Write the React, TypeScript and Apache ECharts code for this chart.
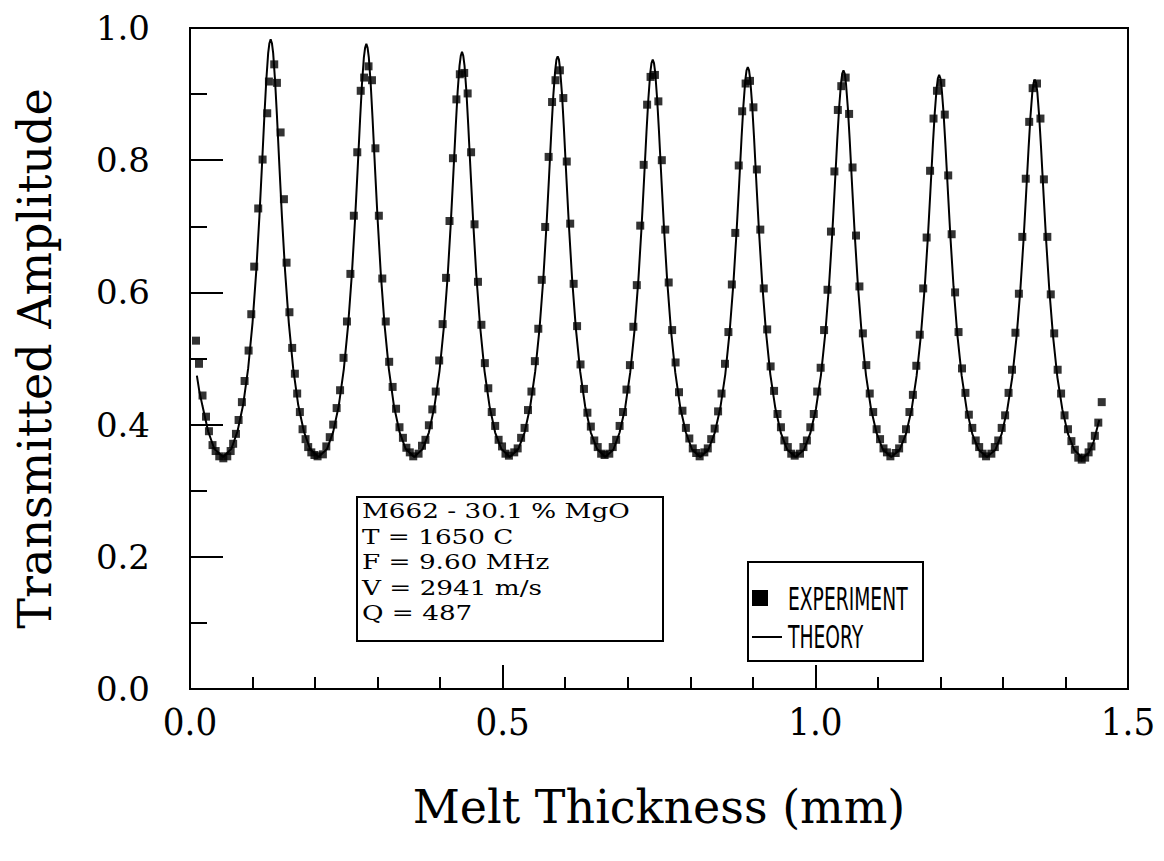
import React, { useEffect, useRef } from "react";
import * as echarts from "echarts";

// ---- Theory curve ----
const theoryX: number[] = [
  0.011, 0.015, 0.020, 0.029, 0.039, 0.053,
  0.066, 0.076, 0.085, 0.093, 0.100, 0.106, 0.111, 0.115, 0.119, 0.122, 0.125, 0.127, 0.129, 0.131, 0.133, 0.136, 0.139, 0.143, 0.147, 0.152, 0.158, 0.165, 0.173, 0.182, 0.192, 0.2055,
  0.219, 0.229, 0.238, 0.246, 0.253, 0.259, 0.264, 0.268, 0.272, 0.275, 0.278, 0.280, 0.282, 0.284, 0.286, 0.289, 0.292, 0.296, 0.300, 0.305, 0.311, 0.318, 0.326, 0.335, 0.345, 0.3585,
  0.372, 0.382, 0.391, 0.399, 0.406, 0.412, 0.417, 0.421, 0.425, 0.428, 0.431, 0.433, 0.435, 0.437, 0.439, 0.442, 0.445, 0.449, 0.453, 0.458, 0.464, 0.471, 0.479, 0.488, 0.498, 0.5115,
  0.525, 0.535, 0.544, 0.552, 0.559, 0.565, 0.570, 0.574, 0.578, 0.581, 0.584, 0.586, 0.588, 0.590, 0.592, 0.595, 0.598, 0.602, 0.606, 0.611, 0.617, 0.624, 0.632, 0.641, 0.651, 0.664,
  0.677, 0.687, 0.696, 0.704, 0.711, 0.717, 0.722, 0.726, 0.730, 0.733, 0.736, 0.738, 0.740, 0.742, 0.744, 0.747, 0.750, 0.754, 0.758, 0.763, 0.769, 0.776, 0.784, 0.793, 0.803, 0.816,
  0.829, 0.839, 0.848, 0.856, 0.863, 0.869, 0.874, 0.878, 0.882, 0.885, 0.888, 0.890, 0.892, 0.894, 0.896, 0.899, 0.902, 0.906, 0.910, 0.915, 0.921, 0.928, 0.936, 0.945, 0.955, 0.9685,
  0.982, 0.992, 1.001, 1.009, 1.016, 1.022, 1.027, 1.031, 1.035, 1.038, 1.041, 1.043, 1.045, 1.047, 1.049, 1.052, 1.055, 1.059, 1.063, 1.068, 1.074, 1.081, 1.089, 1.098, 1.108, 1.1215,
  1.135, 1.145, 1.154, 1.162, 1.169, 1.175, 1.180, 1.184, 1.188, 1.191, 1.194, 1.196, 1.198, 1.200, 1.202, 1.205, 1.208, 1.212, 1.216, 1.221, 1.227, 1.234, 1.242, 1.251, 1.261, 1.2745,
  1.288, 1.298, 1.307, 1.315, 1.322, 1.328, 1.333, 1.337, 1.341, 1.344, 1.347, 1.349, 1.351, 1.353, 1.355, 1.358, 1.361, 1.365, 1.369, 1.374, 1.380, 1.387, 1.395, 1.404, 1.414, 1.427,
  1.437, 1.445, 1.454,
];
const theoryY: number[] = [
  0.474, 0.450, 0.428, 0.390, 0.363, 0.351,
  0.363, 0.390, 0.430, 0.485, 0.554, 0.633, 0.715, 0.790, 0.868, 0.921, 0.962, 0.977, 0.983, 0.977, 0.962, 0.921, 0.868, 0.790, 0.715, 0.633, 0.554, 0.485, 0.430, 0.390, 0.363, 0.351,
  0.363, 0.389, 0.429, 0.484, 0.552, 0.630, 0.711, 0.785, 0.862, 0.915, 0.955, 0.970, 0.976, 0.970, 0.955, 0.915, 0.862, 0.785, 0.711, 0.630, 0.552, 0.484, 0.429, 0.389, 0.363, 0.351,
  0.363, 0.388, 0.428, 0.481, 0.548, 0.624, 0.704, 0.777, 0.852, 0.904, 0.943, 0.958, 0.964, 0.958, 0.943, 0.904, 0.852, 0.777, 0.704, 0.624, 0.548, 0.481, 0.428, 0.388, 0.363, 0.351,
  0.363, 0.388, 0.427, 0.480, 0.546, 0.621, 0.700, 0.772, 0.847, 0.898, 0.936, 0.952, 0.957, 0.952, 0.936, 0.898, 0.847, 0.772, 0.700, 0.621, 0.546, 0.480, 0.427, 0.388, 0.363, 0.351,
  0.362, 0.388, 0.426, 0.479, 0.544, 0.619, 0.697, 0.769, 0.843, 0.893, 0.932, 0.947, 0.952, 0.947, 0.932, 0.893, 0.843, 0.769, 0.697, 0.619, 0.544, 0.479, 0.426, 0.388, 0.362, 0.351,
  0.362, 0.387, 0.425, 0.476, 0.541, 0.614, 0.691, 0.761, 0.834, 0.883, 0.921, 0.936, 0.941, 0.936, 0.921, 0.883, 0.834, 0.761, 0.691, 0.614, 0.541, 0.476, 0.425, 0.387, 0.362, 0.351,
  0.362, 0.387, 0.424, 0.475, 0.539, 0.612, 0.688, 0.758, 0.830, 0.879, 0.916, 0.931, 0.936, 0.931, 0.916, 0.879, 0.830, 0.758, 0.688, 0.612, 0.539, 0.475, 0.424, 0.387, 0.362, 0.351,
  0.362, 0.386, 0.423, 0.474, 0.537, 0.609, 0.684, 0.753, 0.824, 0.872, 0.909, 0.924, 0.929, 0.924, 0.909, 0.872, 0.824, 0.753, 0.684, 0.609, 0.537, 0.474, 0.423, 0.386, 0.362, 0.351,
  0.362, 0.386, 0.423, 0.472, 0.535, 0.606, 0.680, 0.748, 0.818, 0.866, 0.903, 0.917, 0.922, 0.917, 0.903, 0.866, 0.818, 0.748, 0.680, 0.606, 0.535, 0.472, 0.423, 0.386, 0.362, 0.349,
  0.357, 0.374, 0.407,
];

const experimentX: number[] = [
  0.0096, 0.0144, 0.020, 0.0256, 0.0303, 0.036, 0.041, 0.0468, 0.0533, 0.0596, 0.065, 0.069, 0.0735, 0.0777, 0.083, 0.0873, 0.0937,
  0.098, 0.1027, 0.1091, 0.1161, 0.1235, 0.1262, 0.1347, 0.139, 0.1449, 0.1502, 0.1544, 0.159, 0.1634, 0.1677, 0.1714, 0.1757, 0.180, 0.1848, 0.189, 0.194, 0.199, 0.204,
  0.2125, 0.218, 0.2235, 0.229, 0.2345, 0.240, 0.2455, 0.251, 0.2565, 0.262, 0.2675, 0.273, 0.2785, 0.2855, 0.291, 0.2965, 0.302, 0.3075, 0.313, 0.3185, 0.324, 0.3295, 0.335, 0.3405, 0.346, 0.3515, 0.357,
  0.3655, 0.371, 0.3765, 0.382, 0.3875, 0.393, 0.3985, 0.404, 0.4095, 0.415, 0.4205, 0.426, 0.4315, 0.4385, 0.444, 0.4495, 0.455, 0.4605, 0.466, 0.4715, 0.477, 0.4825, 0.488, 0.4935, 0.499, 0.5045, 0.510,
  0.5185, 0.524, 0.5295, 0.535, 0.5405, 0.546, 0.5515, 0.557, 0.5625, 0.568, 0.5735, 0.579, 0.5845, 0.5915, 0.597, 0.6025, 0.608, 0.6135, 0.619, 0.6245, 0.630, 0.6355, 0.641, 0.6465, 0.652, 0.6575, 0.663,
  0.6705, 0.676, 0.6815, 0.687, 0.6925, 0.698, 0.7035, 0.709, 0.7145, 0.720, 0.7255, 0.731, 0.7365, 0.7435, 0.749, 0.7545, 0.760, 0.7655, 0.771, 0.7765, 0.782, 0.7875, 0.793, 0.7985, 0.804, 0.8095, 0.815,
  0.8225, 0.828, 0.8335, 0.839, 0.8445, 0.850, 0.8555, 0.861, 0.8665, 0.872, 0.8775, 0.883, 0.8885, 0.8955, 0.901, 0.9065, 0.912, 0.9175, 0.923, 0.9285, 0.934, 0.9395, 0.945, 0.9505, 0.956, 0.9615, 0.967,
  0.9755, 0.981, 0.9865, 0.992, 0.9975, 1.003, 1.0085, 1.014, 1.0195, 1.025, 1.0305, 1.036, 1.0415, 1.0485, 1.054, 1.0595, 1.065, 1.0705, 1.076, 1.0815, 1.087, 1.0925, 1.098, 1.1035, 1.109, 1.1145, 1.120,
  1.1285, 1.134, 1.1395, 1.145, 1.1505, 1.156, 1.1615, 1.167, 1.1725, 1.178, 1.1835, 1.189, 1.1945, 1.2015, 1.207, 1.2125, 1.218, 1.2235, 1.229, 1.2345, 1.240, 1.2455, 1.251, 1.2565, 1.262, 1.2675, 1.273,
  1.2815, 1.287, 1.2925, 1.298, 1.3035, 1.309, 1.3145, 1.320, 1.3255, 1.331, 1.3365, 1.342, 1.3475, 1.3545, 1.360, 1.3655, 1.371, 1.3765, 1.382, 1.3875, 1.393, 1.3985, 1.404, 1.4095, 1.415, 1.4205, 1.426,
  1.4315, 1.437, 1.4415, 1.447, 1.4525, 1.458,
];
const experimentY: number[] = [
  0.527, 0.492, 0.444, 0.412, 0.390, 0.369, 0.360, 0.352, 0.349, 0.352, 0.360, 0.371, 0.386, 0.407, 0.434, 0.466, 0.512,
  0.567, 0.639, 0.727, 0.801, 0.871, 0.919, 0.945, 0.917, 0.842, 0.741, 0.645, 0.570, 0.516, 0.477, 0.447, 0.419, 0.393, 0.378, 0.366, 0.358, 0.354, 0.352,
  0.355, 0.367, 0.381, 0.400, 0.425, 0.452, 0.501, 0.556, 0.628, 0.716, 0.812, 0.905, 0.925, 0.942, 0.921, 0.818, 0.716, 0.621, 0.556, 0.495, 0.457, 0.424, 0.396, 0.380, 0.365, 0.358, 0.352,
  0.356, 0.368, 0.377, 0.399, 0.423, 0.450, 0.497, 0.552, 0.622, 0.708, 0.803, 0.892, 0.930, 0.932, 0.901, 0.812, 0.703, 0.616, 0.551, 0.493, 0.455, 0.419, 0.398, 0.377, 0.367, 0.356, 0.353,
  0.358, 0.364, 0.380, 0.395, 0.422, 0.450, 0.496, 0.545, 0.619, 0.699, 0.805, 0.888, 0.921, 0.936, 0.894, 0.798, 0.704, 0.613, 0.549, 0.491, 0.454, 0.418, 0.397, 0.376, 0.366, 0.356, 0.354,
  0.356, 0.366, 0.377, 0.398, 0.419, 0.453, 0.490, 0.548, 0.611, 0.701, 0.793, 0.884, 0.926, 0.929, 0.889, 0.800, 0.695, 0.615, 0.543, 0.494, 0.449, 0.421, 0.395, 0.379, 0.364, 0.357, 0.352,
  0.358, 0.364, 0.378, 0.394, 0.420, 0.447, 0.492, 0.540, 0.612, 0.690, 0.792, 0.874, 0.916, 0.920, 0.880, 0.786, 0.695, 0.606, 0.544, 0.488, 0.451, 0.416, 0.396, 0.376, 0.366, 0.356, 0.353,
  0.356, 0.366, 0.376, 0.396, 0.416, 0.450, 0.486, 0.543, 0.604, 0.692, 0.783, 0.876, 0.912, 0.925, 0.870, 0.789, 0.686, 0.609, 0.538, 0.490, 0.447, 0.419, 0.393, 0.378, 0.364, 0.358, 0.352,
  0.357, 0.364, 0.378, 0.393, 0.419, 0.445, 0.489, 0.536, 0.606, 0.683, 0.784, 0.863, 0.905, 0.917, 0.869, 0.777, 0.688, 0.600, 0.540, 0.485, 0.448, 0.415, 0.395, 0.376, 0.366, 0.356, 0.352,
  0.356, 0.366, 0.376, 0.395, 0.414, 0.448, 0.483, 0.539, 0.598, 0.684, 0.772, 0.858, 0.909, 0.916, 0.863, 0.771, 0.684, 0.597, 0.538, 0.483, 0.447, 0.414, 0.393, 0.375, 0.362, 0.350, 0.347,
  0.350, 0.358, 0.367, 0.383, 0.403, 0.434,
];

// ---- Texts ----
const xAxisTitle = "Melt Thickness (mm)";
const yAxisTitle = "Transmitted Amplitude";
const infoLines: string[] = [
  "M662 - 30.1 % MgO",
  "T = 1650 C",
  "F = 9.60 MHz",
  "V = 2941 m/s",
  "Q = 487",
];
const legendLabels: string[] = ["EXPERIMENT", "THEORY"];

const SERIF = "'DejaVu Serif', 'Liberation Serif', serif";
const NARROW = "'Liberation Sans Narrow', 'DejaVu Sans Condensed', 'Liberation Sans', sans-serif";

export default function App() {
  const ref = useRef<HTMLDivElement>(null);

  useEffect(() => {
    if (!ref.current) return;
    const chart = echarts.init(ref.current, undefined, { renderer: "svg" });

    const theoryData = theoryX.map((x, i) => [x, theoryY[i]]);
    const expData = experimentX.map((x, i) => [x, experimentY[i]]);

    const infoTexts = infoLines.map((t, i) => ({
      type: "text",
      x: 362,
      y: 511 + i * 25.5,
      scaleX: 1.25,
      z: 11,
      style: {
        text: t,
        fill: "#000",
        font: `21px ${SERIF}`,
        verticalAlign: "middle",
        align: "left",
      },
    }));

    const option: any = {
      animation: false,
      backgroundColor: "#fff",
      grid: {
        left: 190,
        right: 36,
        top: 28,
        bottom: 172,
        show: true,
        borderColor: "#000",
        borderWidth: 2,
        backgroundColor: "transparent",
      },
      xAxis: {
        type: "value",
        min: 0,
        max: 1.5,
        interval: 0.5,
        name: xAxisTitle,
        nameLocation: "middle",
        nameGap: 95,
        nameTextStyle: { color: "#000", fontFamily: SERIF, fontSize: 46 },
        axisLine: { lineStyle: { color: "#000", width: 2 } },
        axisTick: { inside: true, length: 24, lineStyle: { color: "#000", width: 2 } },
        minorTick: { show: true, splitNumber: 5, length: 12, lineStyle: { color: "#000", width: 2 } },
        splitLine: { show: false },
        axisLabel: {
          margin: 14,
          color: "#000",
          fontFamily: "'DejaVu Serif Condensed', 'Liberation Serif', serif",
          fontSize: 38,
          formatter: (v: number) => v.toFixed(1),
        },
      },
      yAxis: {
        type: "value",
        min: 0,
        max: 1,
        interval: 0.2,
        name: yAxisTitle,
        nameLocation: "middle",
        nameGap: 132,
        nameTextStyle: { color: "#000", fontFamily: SERIF, fontSize: 46 },
        axisLine: { lineStyle: { color: "#000", width: 2 } },
        axisTick: { inside: true, length: 33, lineStyle: { color: "#000", width: 2 } },
        minorTick: { show: true, splitNumber: 2, length: 17, lineStyle: { color: "#000", width: 2 } },
        splitLine: { show: false },
        axisLabel: {
          margin: 40,
          color: "#000",
          fontFamily: SERIF,
          fontSize: 34,
          formatter: (v: number) => v.toFixed(1),
        },
      },
      series: [
        {
          name: legendLabels[1],
          type: "line",
          data: theoryData,
          showSymbol: false,
          symbol: "none",
          lineStyle: { color: "#000", width: 2 },
          z: 2,
        },
        {
          name: legendLabels[0],
          type: "scatter",
          data: expData,
          symbol: "rect",
          symbolSize: 8,
          itemStyle: { color: "#000" },
          z: 3,
        },
      ],
      graphic: [
        {
          type: "rect",
          shape: { x: 357, y: 497, width: 306, height: 144 },
          style: { fill: "#fff", stroke: "#000", lineWidth: 2 },
          z: 10,
        },
        ...infoTexts,
        {
          type: "rect",
          shape: { x: 748, y: 562, width: 175, height: 99 },
          style: { fill: "#fff", stroke: "#000", lineWidth: 2 },
          z: 10,
        },
        {
          type: "rect",
          shape: { x: 752, y: 590, width: 16, height: 16 },
          style: { fill: "#000" },
          z: 11,
        },
        {
          type: "line",
          shape: { x1: 752, y1: 637, x2: 782, y2: 637 },
          style: { stroke: "#000", lineWidth: 2 },
          z: 11,
        },
        {
          type: "text",
          x: 788,
          y: 599,
          scaleX: 0.65,
          z: 11,
          style: {
            text: legendLabels[0],
            fill: "#000",
            font: `32px ${NARROW}`,
            verticalAlign: "middle",
            align: "left",
          },
        },
        {
          type: "text",
          x: 788,
          y: 637,
          scaleX: 0.65,
          z: 11,
          style: {
            text: legendLabels[1],
            fill: "#000",
            font: `32px ${NARROW}`,
            verticalAlign: "middle",
            align: "left",
          },
        },
      ],
    };

    chart.setOption(option);
    return () => {
      chart.dispose();
    };
  }, []);

  return (
    <div
      ref={ref}
      style={{ position: "fixed", left: 0, top: 0, width: 1164, height: 861, background: "#fff" }}
    />
  );
}
